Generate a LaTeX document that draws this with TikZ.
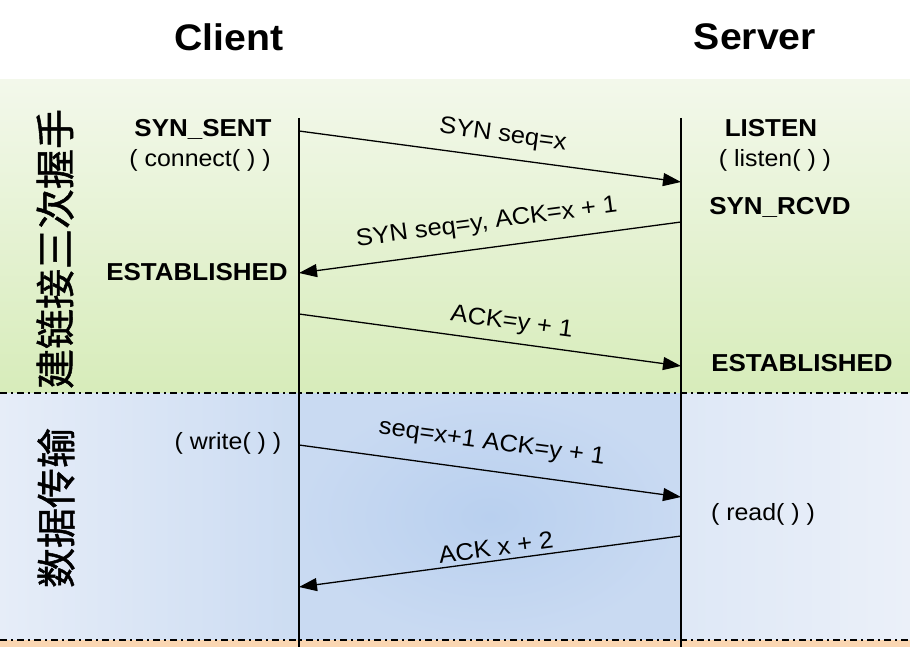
\documentclass[tikz,border=0pt]{standalone}
\usepackage{fontspec}
\setmainfont{Liberation Sans}[FakeStretch=1.06]
\newfontfamily\cjk{Noto Sans CJK SC}[FakeBold=1.2]
\usetikzlibrary{arrows.meta}
\definecolor{greentop}{HTML}{F3F8EB}
\definecolor{greenbot}{HTML}{D7ECBA}
\definecolor{blueedgeL}{HTML}{E6EDF8}
\definecolor{blueedgeR}{HTML}{EBF0F9}
\definecolor{bluenear}{HTML}{CCDCF2}
\definecolor{bluemid}{HTML}{B9D0EF}
\definecolor{bluemidout}{HTML}{C9DAF2}
\definecolor{orangestrip}{HTML}{FAD6B2}
\begin{document}
\begin{tikzpicture}[x=1pt,y=-1pt,
  msg/.style={-{Triangle[length=18pt,width=13pt]}, line width=1.3pt},
  life/.style={line width=1.5pt},
  sepline/.style={line width=1.4pt, dash pattern=on 7pt off 4pt on 2pt off 4pt},
  head/.style={font=\bfseries\fontsize{37}{42}\selectfont},
  state/.style={font=\bfseries\fontsize{24.5}{28}\selectfont, inner sep=0pt},
  call/.style={font=\fontsize{23.5}{27}\selectfont, inner sep=0pt},
  lbl/.style={font=\fontsize{24}{28}\selectfont, sloped, inner sep=0pt},
  phase/.style={font=\cjk\fontsize{40}{42}\selectfont, rotate=90, inner sep=0pt}]
\useasboundingbox (0,0) rectangle (910,647);
\fill[white] (0,0) rectangle (910,647);
% bands
\fill[top color=greentop, bottom color=greenbot] (0,80) rectangle (910,393);
\fill[left color=blueedgeL, right color=bluenear] (0,393) rectangle (299,640);
\fill[inner color=bluemid, outer color=bluemidout] (299,393) rectangle (681,640);
\fill[left color=blueedgeL!70!bluenear, right color=blueedgeR] (681,393) rectangle (910,640);
\fill[orangestrip] (0,640) rectangle (910,647);
% separators
\coordinate (l1) at (0,393); \coordinate (r1) at (910,393);
\coordinate (l2) at (0,640); \coordinate (r2) at (910,640);
\draw[sepline] (l1) -- (r1);
\draw[sepline] (l2) -- (r2);
% lifelines
\coordinate (ctop) at (299,118); \coordinate (cbot) at (299,647);
\coordinate (stop) at (681,118); \coordinate (sbot) at (681,647);
\draw[life] (ctop) -- (cbot);
\draw[life] (stop) -- (sbot);
% headers
\node[head] (client) at (229,37) {Client};
\node[head] (server) at (755,37) {Server};
% phases
\node[phase] (ph1) at (55,249) {建链接三次握手};
\node[phase] (ph2) at (56,508) {数据传输};
% states
\node[state] (synsent) at (203,129) {SYN\_SENT};
\node[call] (connect) at (200,160) {( connect( ) )};
\node[state] (estc) at (197,272) {ESTABLISHED};
\node[state] (listen) at (771,128) {LISTEN};
\node[call] (listencall) at (775,160) {( listen( ) )};
\node[state] (synrcvd) at (780,207) {SYN\_RCVD};
\node[state] (ests) at (802,363) {ESTABLISHED};
\node[call] (write) at (228,443) {( write( ) )};
\node[call] (read) at (763,514) {( read( ) )};
% message points
\coordinate (c1) at (299,131); \coordinate (s1) at (681,182);
\coordinate (s2) at (681,222); \coordinate (c2) at (299,273);
\coordinate (c3) at (299,314); \coordinate (s3) at (681,366);
\coordinate (c4) at (299,445); \coordinate (s4) at (681,497);
\coordinate (s5) at (681,536); \coordinate (c5) at (299,587);
\draw[msg] (c1) -- node[lbl, pos=0.526, above=11pt] (m1) {SYN seq=x} (s1);
\draw[msg] (s2) -- node[lbl, pos=0.5, above=13pt] (m2) {SYN seq=y, ACK=x + 1} (c2);
\draw[msg] (c3) -- node[lbl, pos=0.55, above=8pt] (m3) {ACK=y + 1} (s3);
\draw[msg] (c4) -- node[lbl, pos=0.495, above=16pt] (m4) {seq=x+1 ACK=y + 1} (s4);
\draw[msg] (s5) -- node[lbl, pos=0.48, above=4pt] (m5) {ACK x + 2} (c5);
\end{tikzpicture}
\end{document}
